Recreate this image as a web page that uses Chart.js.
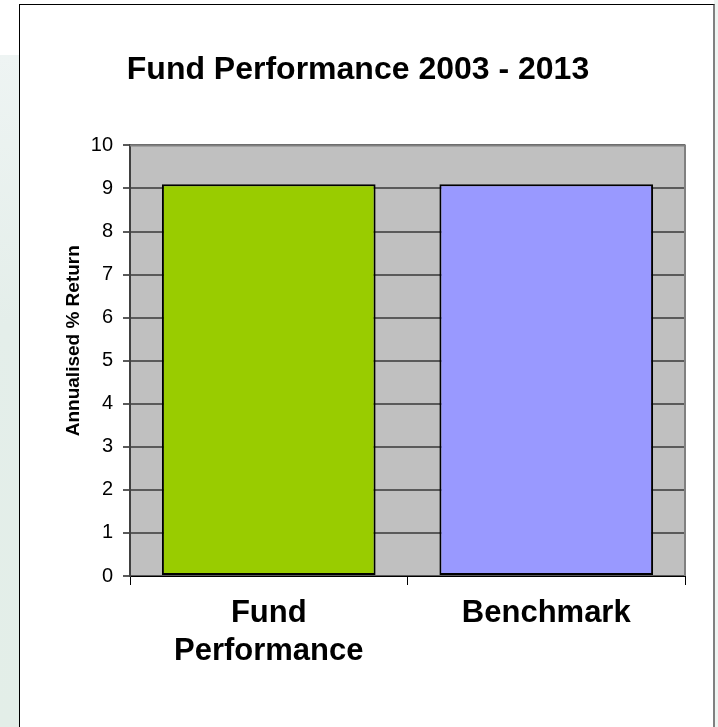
<!DOCTYPE html>
<html>
<head>
<meta charset="utf-8">
<script src="https://cdn.jsdelivr.net/npm/chart.js@4/dist/chart.umd.min.js"></script>
<style>
  html, body { margin: 0; padding: 0; }
  body { width: 718px; height: 727px; position: relative; overflow: hidden; background: #fff; }
  .strip-left { position: absolute; left: 0; top: 55px; width: 19px; height: 672px;
    background: linear-gradient(#eef4f3, #e4eeea 40%, #e3eee8); }
  .strip-right { position: absolute; left: 714px; top: 0; width: 4px; height: 727px; background: #eef5f1; }
  .box { position: absolute; left: 19px; top: 4px; width: 693px; height: 740px;
    border: 1px solid #000; border-right: 2px solid #808080; background: #fff; }
  #wrap { position: absolute; left: 20px; top: 5px; width: 692px; height: 720px; }
</style>
</head>
<body>
<div class="strip-left"></div>
<div class="strip-right"></div>
<div class="box"></div>
<div id="wrap"><canvas id="myChart"></canvas></div>
<script>
// chart values
var categories = [["Fund", "Performance"], "Benchmark"];
var returns = [9.1, 9.1];
var barColors = ["#99cc00", "#9999ff"];
var yTicks = [0, 10, 1]; // min, max, step
var yTitle = "Annualised % Return";

var font = "'Liberation Sans', Arial, sans-serif";

// grey plot background, grey top/right edge, and the y title a bit above centre
var plotFrame = {
  id: "plotFrame",
  beforeDraw: function (chart) {
    var a = chart.chartArea, ctx = chart.ctx;
    ctx.save();
    ctx.fillStyle = "#c0c0c0";
    ctx.fillRect(a.left, a.top, a.right - a.left, a.bottom - a.top);
    ctx.restore();
  },
  afterDraw: function (chart) {
    var a = chart.chartArea, ctx = chart.ctx;
    ctx.save();
    ctx.strokeStyle = "#808080";
    ctx.lineWidth = 2;
    ctx.beginPath();
    ctx.moveTo(a.left, a.top);
    ctx.lineTo(a.right, a.top);
    ctx.lineTo(a.right, a.bottom);
    ctx.stroke();

    ctx.translate(a.left - 56.5, (a.top + a.bottom) / 2 - 20);
    ctx.rotate(-Math.PI / 2);
    ctx.fillStyle = "#000";
    ctx.font = "bold 19px " + font;
    ctx.textAlign = "center";
    ctx.textBaseline = "middle";
    ctx.fillText(yTitle, 0, 0);
    ctx.restore();
  }
};

var ctx = document.getElementById("myChart").getContext("2d");
var myChart = new Chart(ctx, {
  type: "bar",
  data: {
    labels: categories,
    datasets: [
      {
        label: yTitle,
        data: returns,
        backgroundColor: barColors,
        borderColor: "#000000",
        borderWidth: 2,
        borderSkipped: false,
        barPercentage: 0.77,
        categoryPercentage: 1,
      },
    ],
  },
  options: {
    responsive: true,
    maintainAspectRatio: false,
    animation: false,
    layout: { padding: { left: 11, right: 27, top: 0, bottom: 29 } },
    plugins: {
      legend: { display: false },
      tooltip: { enabled: false },
      title: {
        display: true,
        text: "Fund Performance 2003 - 2013",
        color: "#000",
        font: { family: font, size: 32, weight: "bold", lineHeight: 1.2 },
        padding: { top: 46, bottom: 56 },
      },
    },
    scales: {
      x: {
        afterFit: function (s) { s.height = 120; },
        grid: { drawOnChartArea: false, color: "#000", tickLength: 9, lineWidth: 1 },
        border: { color: "#000", width: 1 },
        ticks: {
          color: "#000",
          padding: 9,
          font: { family: font, size: 31, weight: "bold", lineHeight: 1.226 },
          maxRotation: 0,
        },
      },
      y: {
        min: yTicks[0],
        max: yTicks[1],
        afterFit: function (s) { s.width = 99; },
        grid: { color: "#5a5a5a", lineWidth: 2, tickLength: 7 },
        border: { color: "#404040", width: 2 },
        ticks: {
          stepSize: yTicks[2],
          color: "#000",
          padding: 10,
          font: { family: font, size: 20 },
        },
      },
    },
  },
  plugins: [plotFrame],
});
</script>
</body>
</html>
